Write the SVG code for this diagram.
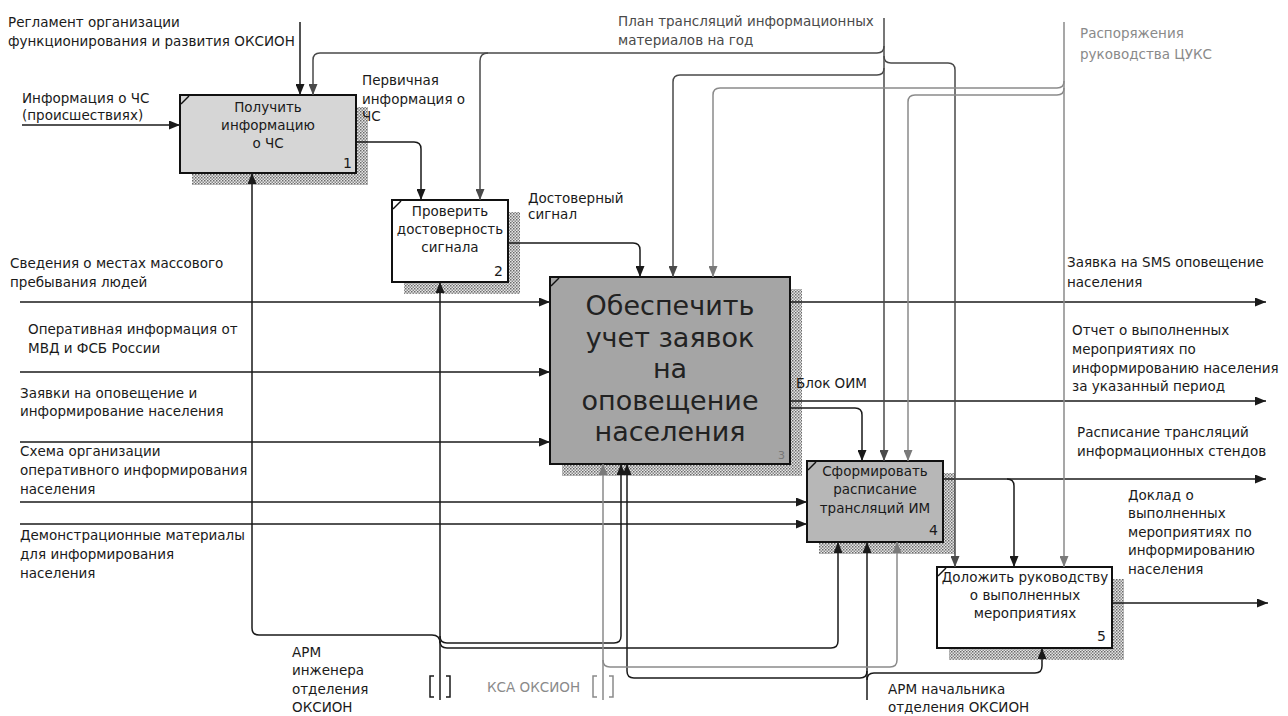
<svg xmlns="http://www.w3.org/2000/svg" width="1288" height="716" viewBox="0 0 1288 716">
<defs>
<pattern id="hatch" width="3" height="3" patternUnits="userSpaceOnUse">
<rect width="3" height="3" fill="#e6e6e6"/>
<rect width="1.5" height="1.5" fill="#6a6a6a"/>
<rect x="1.5" y="1.5" width="1.5" height="1.5" fill="#8a8a8a"/>
</pattern>
<marker id="aB" markerUnits="userSpaceOnUse" markerWidth="11" markerHeight="9" refX="11" refY="4.5" orient="auto"><path d="M0,0 L11,4.5 L0,9 z" fill="#1a1a1a"/></marker>
<marker id="aD" markerUnits="userSpaceOnUse" markerWidth="11" markerHeight="9" refX="11" refY="4.5" orient="auto"><path d="M0,0 L11,4.5 L0,9 z" fill="#4a4a4a"/></marker>
<marker id="aG" markerUnits="userSpaceOnUse" markerWidth="11" markerHeight="9" refX="11" refY="4.5" orient="auto"><path d="M0,0 L11,4.5 L0,9 z" fill="#7a7a7a"/></marker>
</defs>
<style>
text{font-family:"DejaVu Sans","Liberation Sans",sans-serif;font-size:13.5px;fill:#1a1a1a}
.box{stroke:#111;stroke-width:2}
.sh{fill:url(#hatch)}
.bt{text-anchor:middle}
.big{font-size:27px;text-anchor:middle;fill:#222}
.num{font-size:14px;text-anchor:end}
.c{fill:none;stroke:#1a1a1a;stroke-width:1.5}
.cd{fill:none;stroke:#4a4a4a;stroke-width:1.5}
.cg{fill:none;stroke:#8a8a8a;stroke-width:1.5}
.ab{marker-end:url(#aB)}
.ad{marker-end:url(#aD)}
.ag{marker-end:url(#aG)}
.tg{fill:#8a8a8a}
.td{fill:#4a4a4a}
</style>
<rect width="1288" height="716" fill="#ffffff"/>

<g id="node1">
<rect class="sh" x="192" y="107" width="176" height="78"/>
<rect class="box" x="180" y="95" width="176" height="78" fill="#d6d6d6"/>
<path d="M181,104 L189,96" stroke="#111" stroke-width="1.5"/>
<text class="bt" x="268" y="112">Получить</text>
<text class="bt" x="268" y="130">информацию</text>
<text class="bt" x="268" y="148">о ЧС</text>
<text class="num" x="352" y="168">1</text>
</g>

<g id="node2">
<rect class="sh" x="404" y="212" width="116" height="82"/>
<rect class="box" x="392" y="200" width="116" height="82" fill="#ffffff"/>
<path d="M393,209 L401,201" stroke="#111" stroke-width="1.5"/>
<text class="bt" x="450" y="216">Проверить</text>
<text class="bt" x="450" y="234">достоверность</text>
<text class="bt" x="450" y="252">сигнала</text>
<text class="num" x="503" y="276">2</text>
</g>

<g id="node3">
<rect class="sh" x="562" y="289" width="240" height="187"/>
<rect class="box" x="550" y="277" width="240" height="187" fill="#a5a5a5"/>
<path d="M551,286 L559,278" stroke="#111" stroke-width="1.5"/>
<text class="big" x="670" y="315">Обеспечить</text>
<text class="big" x="670" y="347">учет заявок</text>
<text class="big" x="670" y="378">на</text>
<text class="big" x="670" y="410">оповещение</text>
<text class="big" x="670" y="441">населения</text>
<text class="num" x="785" y="459" style="font-size:11px;fill:#777">3</text>
</g>

<g id="node4">
<rect class="sh" x="819" y="473" width="136" height="81"/>
<rect class="box" x="807" y="461" width="136" height="81" fill="#b7b7b7"/>
<path d="M808,470 L816,462" stroke="#111" stroke-width="1.5"/>
<text class="bt" x="875" y="476">Сформировать</text>
<text class="bt" x="875" y="494">расписание</text>
<text class="bt" x="875" y="513">трансляций ИМ</text>
<text class="num" x="938" y="535">4</text>
</g>

<g id="node5">
<rect class="sh" x="949" y="579" width="175" height="81"/>
<rect class="box" x="937" y="567" width="175" height="81" fill="#ffffff"/>
<path d="M938,576 L946,568" stroke="#111" stroke-width="1.5"/>
<text class="bt" x="1025" y="582">Доложить руководству</text>
<text class="bt" x="1025" y="600">о выполненных</text>
<text class="bt" x="1025" y="618">мероприятиях</text>
<text class="num" x="1106" y="641">5</text>
</g>

<g id="connectors">
<!-- black -->
<path class="c ab" d="M22,125 H180"/>
<path class="c ab" d="M300,22 V95"/>
<path class="c ab" d="M357,142 H414 Q421,142 421,149 V200"/>
<path class="c ab" d="M509,243 H633 Q640,243 640,250 V277"/>
<path class="c ab" d="M20,302 H550"/>
<path class="c ab" d="M20,372 H550"/>
<path class="c ab" d="M20,442 H550"/>
<path class="c ab" d="M20,502 H807"/>
<path class="c ab" d="M20,524 H807"/>
<path class="c ab" d="M791,302 H1266"/>
<path class="c ab" d="M791,401 H1266"/>
<path class="c ab" d="M791,408 H855 Q862,408 862,415 V461"/>
<path class="c ab" d="M944,479 H1266"/>
<path class="c ab" d="M1007,479 Q1014,479 1014,486 V567"/>
<path class="c ab" d="M1113,603 H1268"/>
<path class="c ab" d="M440,700 V282"/>
<path class="c ab" d="M440,643 Q440,635 432,635 H259 Q252,635 252,628 V173"/>
<path class="c ab" d="M440,636 Q440,643 447,643 H614 Q621,643 621,636 V464"/>
<path class="c ab" d="M440,641 Q440,648 447,648 H831 Q838,648 838,641 V542"/>
<path class="c ab" d="M867,700 V542"/>
<path class="c ab" d="M867,680 Q867,673 874,673 H1035 Q1042,673 1042,666 V648"/>
<path class="c ab" d="M867,671 Q867,678 860,678 H634 Q627,678 627,671 V464"/>
<!-- dark gray: plan -->
<path class="cd ad" d="M884,18 V461"/>
<path class="cd ad" d="M884,46 Q884,53 877,53 H320 Q313,53 313,60 V95"/>
<path class="cd ad" d="M488,53 Q480,53 480,61 V200"/>
<path class="cd ad" d="M884,68 Q884,75 877,75 H680 Q673,75 673,82 V277"/>
<path class="cd ad" d="M884,56 Q884,63 891,63 H948 Q955,63 955,70 V567"/>
<!-- gray: directives -->
<path class="cg ag" d="M1064,22 V567"/>
<path class="cg ag" d="M1064,81 Q1064,88 1057,88 H720 Q713,88 713,95 V277"/>
<path class="cg ag" d="M1064,88 Q1064,95 1057,95 H915 Q908,95 908,102 V461"/>
<!-- gray: KSA -->
<path class="cg ag" d="M603,700 V464"/>
<path class="cg ag" d="M603,660 Q603,667 610,667 H890 Q897,667 897,660 V542"/>
<!-- tunnel brackets -->
<path class="c" d="M434,676 H430 V697 H434 M446,676 H450 V697 H446" stroke-width="1.3"/>
<path class="cg" d="M597,676 H593 V697 H597 M609,676 H613 V697 H609" stroke-width="1.3"/>
</g>

<g id="labels">
<text x="8" y="27">Регламент организации</text>
<text x="8" y="46">функционирования и развития ОКСИОН</text>
<text x="22" y="103">Информация о ЧС</text>
<text x="22" y="120">(происшествиях)</text>
<text x="362" y="85">Первичная</text>
<text x="362" y="104">информация о</text>
<text x="362" y="121">ЧС</text>
<text x="528" y="203">Достоверный</text>
<text x="528" y="219">сигнал</text>
<text class="td" x="618" y="26">План трансляций информационных</text>
<text class="td" x="618" y="45">материалов на год</text>
<text class="tg" x="1080" y="38">Распоряжения</text>
<text class="tg" x="1080" y="59">руководства ЦУКС</text>
<text x="10" y="268">Сведения о местах массового</text>
<text x="10" y="287">пребывания людей</text>
<text x="28" y="334">Оперативная информация от</text>
<text x="28" y="353">МВД и ФСБ России</text>
<text x="20" y="398">Заявки на оповещение и</text>
<text x="20" y="416">информирование населения</text>
<text x="20" y="456">Схема организации</text>
<text x="20" y="475">оперативного информирования</text>
<text x="20" y="494">населения</text>
<text x="20" y="540">Демонстрационные материалы</text>
<text x="20" y="559">для информирования</text>
<text x="20" y="578">населения</text>
<text x="1067" y="267">Заявка на SMS оповещение</text>
<text x="1067" y="287">населения</text>
<text x="1072" y="335">Отчет о выполненных</text>
<text x="1072" y="354">мероприятиях по</text>
<text x="1072" y="373">информированию населения</text>
<text x="1072" y="391">за указанный период</text>
<text x="796" y="388">Блок ОИМ</text>
<text x="1077" y="437">Расписание трансляций</text>
<text x="1077" y="456">информационных стендов</text>
<text x="1128" y="500">Доклад о</text>
<text x="1128" y="518">выполненных</text>
<text x="1128" y="537">мероприятиях по</text>
<text x="1128" y="555">информированию</text>
<text x="1128" y="574">населения</text>
<text x="292" y="657">АРМ</text>
<text x="292" y="675">инженера</text>
<text x="292" y="694">отделения</text>
<text x="292" y="712">ОКСИОН</text>
<text class="tg" x="487" y="692">КСА ОКСИОН</text>
<text x="888" y="694">АРМ начальника</text>
<text x="888" y="712">отделения ОКСИОН</text>
</g>
</svg>
